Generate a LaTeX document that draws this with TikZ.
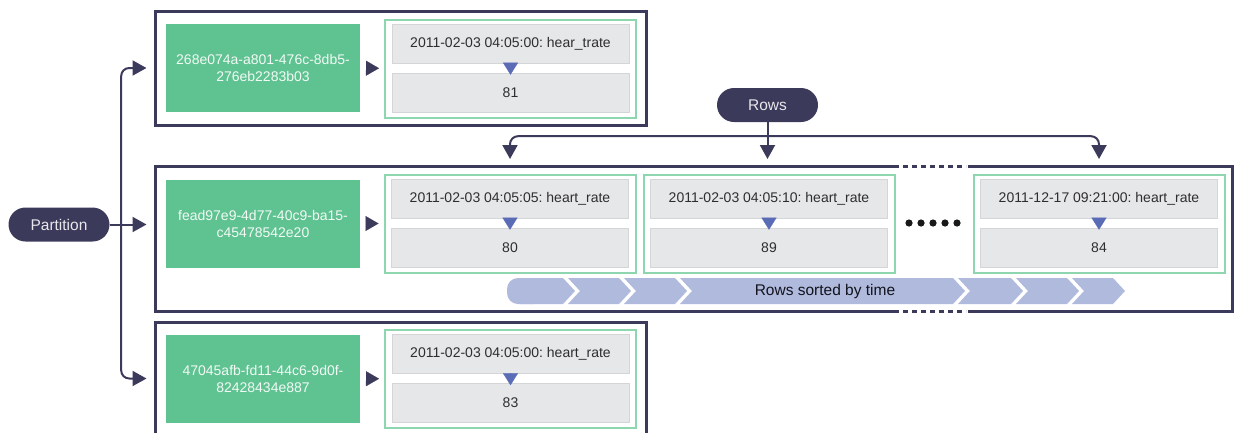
\documentclass[tikz,border=0pt]{standalone}
\usepackage{fontspec}
\setmainfont{Liberation Sans}
\frenchspacing
\usetikzlibrary{arrows.meta}
\definecolor{cnavy}{RGB}{60,58,90}
\definecolor{cgreen}{RGB}{95,194,145}
\definecolor{clgreen}{RGB}{142,214,176}
\definecolor{cgray}{RGB}{230,231,233}
\definecolor{cblue}{RGB}{91,108,183}
\definecolor{cband}{RGB}{175,186,221}
\tikzset{
  partbox/.style={draw=cnavy,line width=3pt,minimum width=491pt,minimum height=114pt,inner sep=0pt},
  keybox/.style={fill=cgreen,text=white!92!cgreen,minimum width=194pt,minimum height=88pt,inner sep=0pt,align=center,font=\fontsize{14}{17}\selectfont},
  rowbox/.style={draw=clgreen,line width=2pt,minimum width=251pt,minimum height=98pt,inner sep=0pt},
  cell/.style={fill=cgray,draw=cgray!92!black,line width=0.6pt,minimum width=237pt,minimum height=39pt,inner sep=0pt,text=black!82,font=\fontsize{14}{16}\selectfont},
  pill/.style={fill=cnavy,text=white!88!cnavy,rounded corners=17pt,minimum width=101pt,minimum height=34pt,inner sep=0pt,font=\fontsize{15.5}{18}\selectfont},
  flow/.style={draw=cnavy,line width=2pt,rounded corners=8pt,shorten >=7pt,-{Triangle[length=14pt,width=15pt]}},
  keyarrow/.style={cnavy,line width=0.1pt,shorten <=6pt,shorten >=5pt,-{Triangle[length=13pt,width=15pt]}},
  valarrow/.style={cblue,line width=0.1pt,shorten >=-2pt,-{Triangle[length=12pt,width=15pt]}},
  bandtext/.style={text=black!68!cnavy,font=\fontsize{15.5}{18}\selectfont,inner sep=0pt}
}

\begin{document}
\begin{tikzpicture}[x=1pt,y=-1pt]
    \useasboundingbox (0,0) rectangle (1235,432);
    \node[partbox] (p1) at (400.5,68) {};
    \node[partbox,minimum width=1077pt,minimum height=145pt] (p2) at (693.5,238.5) {};
    \node[partbox] (p3) at (400.5,379) {};
    \draw[white,line width=4pt] (899,166) -- (968,166) (899,311) -- (968,311);
    \draw[cnavy,line width=3pt,dash pattern=on 5pt off 4pt] (903,166) -- (966,166) (903,311) -- (966,311);
    \node[keybox] (k1) at (263,68) {268e074a-a801-476c-8db5-\\276eb2283b03};
    \node[keybox] (k2) at (263,223.5) {fead97e9-4d77-40c9-ba15-\\c45478542e20};
    \node[keybox] (k3) at (263,378.5) {47045afb-fd11-44c6-9d0f-\\82428434e887};
    \foreach \nm/\x/\y/\stamp/\val in {
        r1/510.5/68.5/{2011-02-03 04:05:00: hear\_trate}/81,
        m1/510/223.5/{2011-02-03 04:05:05: heart\_rate}/80,
        m2/769/223.5/{2011-02-03 04:05:10: heart\_rate}/89,
        m3/1099/223.5/{2011-12-17 09:21:00: heart\_rate}/84,
        r3/510.5/379/{2011-02-03 04:05:00: heart\_rate}/83}{
      \node[rowbox] (\nm) at (\x,\y) {};
      \node[cell] (\nm-t) at ([yshift=25pt]\nm.center) {\stamp};
      \node[cell] (\nm-v) at ([yshift=-24pt]\nm.center) {\val};
      \draw[valarrow] (\nm-t) -- (\nm-v);
    }
    \draw[keyarrow] (k1) -- (r1);
    \draw[keyarrow] (k2) -- (m1);
    \draw[keyarrow] (k3) -- (r3);
    \foreach \i in {0,...,4} \fill[black!90] ({909+12*\i},223) circle (3.6pt);
    \fill[cband,rounded corners=11pt] (507,278) rectangle (545,304);
    \foreach \a/\b in {520/563,568/619,624/675,680/953,958/1011,1016/1067,1072/1113}
      \fill[cband] (\a,278) -- (\b,278) -- ({\b+12},291) -- (\b,304) -- (\a,304) -- ({\a+12},291) -- cycle;
    \node[bandtext] (band) at (825,291) {Rows sorted by time};
    \node[pill] (part) at (59,224.5) {Partition};
    \node[pill] (rows) at (767.5,105) {Rows};
    \coordinate (fork) at ([xshift=11.5pt]part.east);
    \coordinate (bus) at ([yshift=-14pt]rows.south);
    \draw[flow] (part.east) -- (part.east -| p2.west);
    \draw[flow] (fork) |- (k1 -| p1.west);
    \draw[flow] (fork) |- (k3 -| p3.west);
    \draw[flow,shorten >=5.5pt] (rows) -- (rows |- p2.north);
    \draw[flow,shorten >=5.5pt] (bus) -| (m1 |- p2.north);
    \draw[flow,shorten >=5.5pt] (bus) -| (m3 |- p2.north);
  \end{tikzpicture}
\end{document}
